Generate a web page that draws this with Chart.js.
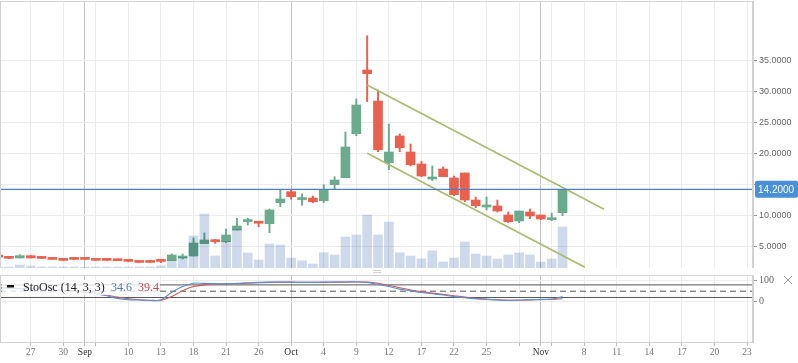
<!DOCTYPE html>
<html>
<head>
<meta charset="utf-8">
<script src="https://cdn.jsdelivr.net/npm/chart.js@4.4.0/dist/chart.umd.min.js"></script>
<style>
  html, body { margin: 0; padding: 0; background: #fff; }
  #wrap { position: relative; width: 798px; height: 363px; overflow: hidden; }
  #price { position: absolute; left: 0; top: 0; }
  #osc { position: absolute; left: 0; top: 268px; }
</style>
</head>
<body>
<div id="wrap">
  <canvas id="price" width="798" height="268"></canvas>
  <canvas id="osc" width="798" height="95"></canvas>
</div>
<script>
// one entry per slot on the time axis, slot 0 is the (clipped) leftmost candle
const opens  = [3.30, 3.10, 3.11, 3.48, 3.08, 2.92, 2.76, 2.92, 2.90, 2.76, 2.76, 2.95, 2.60, 2.43, 2.43, 2.60,
                2.67, 3.11, 3.43, 5.42, 6.07, 5.74, 7.63, 9.00, 9.04, 8.65, 12.05, 13.83, 12.55, 12.80, 12.37, 14.96,
                16.09, 23.20, 33.50, 28.48, 18.50, 22.83, 20.24, 18.30, 15.88, 17.49, 16.04, 16.85, 12.48, 11.35,
                11.51, 10.06, 9.09, 10.54, 10.06, 9.30, 10.43];
const highs  = [3.30, 3.10, 3.64, 3.50, 3.08, 3.10, 2.90, 2.92, 2.90, 2.76, 2.90, 2.95, 2.60, 2.43, 2.43, 2.60,
                3.76, 3.76, 6.34, 7.15, 6.10, 7.80, 9.53, 9.53, 9.04, 11.03, 14.10, 14.10, 13.45, 13.13, 14.96, 16.25,
                23.47, 28.80, 39.04, 30.26, 24.77, 23.15, 21.53, 18.74, 17.98, 17.82, 16.36, 16.85, 12.97, 12.97,
                12.48, 10.54, 10.70, 11.03, 10.06, 10.38, 14.20];
const lows   = [3.25, 3.05, 3.11, 3.10, 3.04, 2.88, 2.72, 2.88, 2.88, 2.72, 2.72, 2.67, 2.56, 2.39, 2.39, 2.35,
                2.67, 2.95, 3.43, 5.42, 5.48, 5.58, 7.63, 8.44, 8.17, 7.20, 11.40, 12.60, 11.63, 12.05, 12.05, 14.20,
                16.09, 22.88, 28.37, 20.29, 17.38, 20.29, 17.98, 16.25, 15.60, 16.25, 13.18, 12.20, 11.24, 10.87,
                10.54, 8.81, 8.81, 9.46, 9.30, 9.14, 9.95];
const closes = [3.25, 3.05, 3.48, 3.11, 3.04, 2.88, 2.72, 2.88, 2.88, 2.72, 2.72, 2.67, 2.56, 2.39, 2.39, 2.56,
                3.59, 3.43, 5.53, 6.02, 5.74, 6.83, 8.28, 9.09, 8.72, 10.87, 12.65, 13.02, 12.65, 12.20, 14.20, 15.71,
                21.05, 27.84, 32.90, 20.60, 20.24, 20.94, 18.19, 16.36, 15.98, 16.25, 13.34, 12.48, 11.56, 11.68,
                10.70, 8.98, 10.70, 9.90, 9.41, 9.57, 14.20];
const volumes = [1000, 1000, 3000, 2000, 1000, 1000, 1000, 1000, 1000, 1000, 1000, 1000, 1000, 1000, 1000, 2000,
                 7000, 10700, 32000, 54000, 12000, 26700, 38700, 15000, 8000, 24000, 23000, 10000, 7200, 4000, 15300, 13000,
                 31000, 33000, 53000, 33000, 46000, 15300, 12000, 9200, 17200, 6000, 10000, 26000, 14000, 12000,
                 9000, 13000, 15000, 13000, 6000, 9000, 41000];

// stochastic oscillator (14, 3, 3)
const stochK = [66, 64, 62, 60, 58, 55, 53, 50, 45, 38, 28, 16, 10, 8, 7, 9,
                45, 72, 88, 87, 86, 85, 87, 90, 92, 93, 93, 93, 92, 92, 93, 93,
                94, 95, 92, 82, 72, 60, 52, 44, 38, 32, 24, 19, 14, 11,
                8, 7, 8, 10, 11, 12, 24];
const stochD = [67, 65, 63, 61, 59, 56, 54, 51, 47, 41, 32, 22, 14, 9, 6, 6,
                25, 52, 72, 80, 84, 85, 86, 88, 90, 92, 93, 93, 92, 92, 92, 93,
                93, 94, 93, 88, 78, 66, 56, 48, 41, 35, 28, 22, 16, 12,
                9, 7, 7, 8, 10, 11, 14];
const stochLevels = [80, 50, 20];
const stochTitle = 'StoOsc (14, 3, 3)';
const stochReadout = ['34.6', '39.4'];

// drawn trend channel, [slot, price]
const channelUpper = [[34, 31.07], [55.83, 10.98]];
const channelLower = [[34, 20.03], [54.06, 1.60]];
const lastPrice = 14.2;

// time axis
const tickSlots  = [3, 6, 8, 9, 12, 15, 18, 21, 24, 27, 30, 33, 36, 39, 42, 45, 48, 50, 51, 54, 57, 60, 63, 66, 69];
const tickLabels = ['27', '30', 'Sep', '', '10', '13', '18', '21', '26', 'Oct', '4', '9', '12', '17', '22', '25',
                    '', 'Nov', '', '8', '11', '14', '17', '20', '23'];
const monthSlots = [8, 27, 50];
const priceTicks = [5, 10, 15, 20, 25, 30, 35];
const oscTicks = [0, 100];

const X_MIN = 0.171, X_MAX = 69.55;
const GREEN = '#6aab8e', RED = '#e9604f';
const GRID = '#ececec', MONTH_GRID = '#c4c4c4';

const isUp = i => closes[i] >= opens[i];
const candleColor = ctx => isUp(ctx.dataIndex) ? GREEN : RED;
const pts = arr => arr.map(p => ({ x: p[0], y: p[1] }));

// keep chart.js from reserving room for edge labels
const noPad = s => { s.paddingTop = 0; s.paddingBottom = 0; s.paddingLeft = 0; s.paddingRight = 0; };

const sharedX = {
  type: 'linear',
  min: X_MIN,
  max: X_MAX,
  offset: false,
  afterBuildTicks: scale => { scale.ticks = tickSlots.map(v => ({ value: v })); },
  grid: {
    offset: false,
    color: ctx => (ctx.tick && monthSlots.includes(ctx.tick.value)) ? MONTH_GRID : GRID,
    tickColor: '#bbb',
    tickLength: 4
  }
};

const frame = {
  id: 'frame',
  afterDraw(chart) {
    const a = chart.chartArea, c = chart.ctx;
    c.save();
    c.strokeStyle = '#d2d2d2';
    c.lineWidth = 1;
    c.strokeRect(a.left + 0.5, a.top + 0.5, a.right - a.left - 1, a.bottom - a.top);
    c.restore();
  }
};

const volumeBlend = {
  id: 'volumeBlend',
  beforeDatasetDraw(chart, args) {
    if (chart.data.datasets[args.index].label === 'Volume') {
      chart.ctx.save();
      chart.ctx.globalCompositeOperation = 'multiply';
    }
  },
  afterDatasetDraw(chart, args) {
    if (chart.data.datasets[args.index].label === 'Volume') chart.ctx.restore();
  }
};

const priceTag = {
  id: 'priceTag',
  afterDraw(chart) {
    const c = chart.ctx, y = chart.scales.y.getPixelForValue(lastPrice);
    const x0 = chart.chartArea.right + 2;
    c.save();
    c.fillStyle = '#4a90d9';
    c.beginPath();
    c.roundRect(x0, y - 8.5, 798 - x0, 17, 2);
    c.fill();
    c.fillStyle = '#fff';
    c.font = '10px "Liberation Sans"';
    c.textBaseline = 'middle';
    c.fillText(lastPrice.toFixed(4), x0 + 3, y + 0.5);
    c.restore();
  }
};

new Chart(document.getElementById('price'), {
  type: 'bar',
  data: {
    datasets: [
      {
        label: 'Last', type: 'line', order: -2, yAxisID: 'y',
        data: [{ x: X_MIN, y: lastPrice }, { x: X_MAX, y: lastPrice }],
        borderColor: '#4a80c6', borderWidth: 1.2, pointRadius: 0
      },
      {
        label: 'Channel top', type: 'line', order: -1, yAxisID: 'y',
        data: pts(channelUpper), borderColor: '#a9bb70', borderWidth: 1.6, pointRadius: 0
      },
      {
        label: 'Channel bottom', type: 'line', order: -1, yAxisID: 'y',
        data: pts(channelLower), borderColor: '#a9bb70', borderWidth: 1.6, pointRadius: 0
      },
      {
        label: 'Volume', order: 0, yAxisID: 'vol', grouped: false,
        data: volumes.map((v, i) => ({ x: i, y: v })),
        backgroundColor: '#cedaeb', barThickness: 9
      },
      {
        label: 'Body', order: 1, yAxisID: 'y', grouped: false,
        data: opens.map((o, i) => ({ x: i, y: [o, closes[i]] })),
        backgroundColor: candleColor, barThickness: 9, minBarLength: 2
      },
      {
        label: 'Wick', order: 2, yAxisID: 'y', grouped: false,
        data: lows.map((l, i) => ({ x: i, y: [l, highs[i]] })),
        backgroundColor: candleColor, barThickness: 1.3
      }
    ]
  },
  options: {
    responsive: false,
    animation: false,
    devicePixelRatio: 1,
    layout: { padding: { top: 1, left: 0, right: 0, bottom: 0 } },
    plugins: { legend: { display: false }, tooltip: { enabled: false } },
    scales: {
      x: Object.assign({}, sharedX, {
        ticks: { display: false },
        grid: Object.assign({}, sharedX.grid, { drawTicks: false }),
        border: { display: false },
        afterFit: s => { s.height = 0; noPad(s); }
      }),
      y: {
        position: 'right',
        min: 1.49, max: 44.65,
        afterBuildTicks: scale => { scale.ticks = priceTicks.map(v => ({ value: v })); },
        afterFit: s => { s.width = 45; noPad(s); },
        grid: { color: GRID, tickColor: '#999', tickLength: 4 },
        border: { color: '#d2d2d2' },
        ticks: {
          padding: 2, color: '#666',
          font: { family: '"Liberation Sans"', size: 9 },
          callback: v => v.toFixed(4)
        }
      },
      vol: { display: false, min: 0, max: 267000 }
    }
  },
  plugins: [volumeBlend, priceTag, frame]
});

const oscDecor = {
  id: 'oscDecor',
  afterDraw(chart) {
    const c = chart.ctx;
    c.save();
    // legend plate
    c.fillStyle = 'rgba(255,255,255,0.8)';
    c.fillRect(2, 12, 158, 15);
    c.fillStyle = '#111';
    c.fillRect(7, 17, 7, 2.5);
    c.font = '12px "Liberation Serif"';
    c.textBaseline = 'alphabetic';
    c.fillStyle = '#222';
    c.fillText(stochTitle, 23, 23);
    c.fillStyle = '#4a7cbf';
    c.fillText(stochReadout[0], 111, 23);
    c.fillStyle = '#c84848';
    c.fillText(stochReadout[1], 138, 23);
    // pane resize grip
    c.strokeStyle = '#d0d0d0';
    c.lineWidth = 1;
    c.beginPath();
    c.moveTo(373, 2.5); c.lineTo(381, 2.5);
    c.moveTo(373, 4.5); c.lineTo(381, 4.5);
    c.stroke();
    // close cross
    c.strokeStyle = '#9a9a9a';
    c.beginPath();
    c.moveTo(784, 8); c.lineTo(792, 16);
    c.moveTo(792, 8); c.lineTo(784, 16);
    c.stroke();
    c.restore();
  }
};

const levelSets = stochLevels.map(v => ({
  label: 'L' + v, order: 2,
  data: [{ x: X_MIN, y: v }, { x: X_MAX, y: v }],
  borderColor: '#555', borderWidth: 1, pointRadius: 0,
  borderDash: v === 50 ? [6, 4] : []
}));

new Chart(document.getElementById('osc'), {
  type: 'line',
  data: {
    datasets: levelSets.concat([
      {
        label: '%D', order: 1,
        data: stochD.map((v, i) => ({ x: i, y: v })),
        borderColor: '#cc5a5a', borderWidth: 1.1, pointRadius: 0, tension: 0.35
      },
      {
        label: '%K', order: 0,
        data: stochK.map((v, i) => ({ x: i, y: v })),
        borderColor: '#5a8fd4', borderWidth: 1.1, pointRadius: 0, tension: 0.35
      }
    ])
  },
  options: {
    responsive: false,
    animation: false,
    devicePixelRatio: 1,
    layout: { padding: { top: 7, left: 0, right: 0, bottom: 0 } },
    plugins: { legend: { display: false }, tooltip: { enabled: false } },
    scales: {
      x: Object.assign({}, sharedX, {
        position: 'bottom',
        border: { color: '#d2d2d2' },
        afterFit: s => { s.height = 21; noPad(s); },
        ticks: {
          autoSkip: false, maxRotation: 0, minRotation: 0, padding: 1,
          color: ctx => (ctx.tick && monthSlots.includes(ctx.tick.value)) ? '#333' : '#777',
          font: { family: '"Liberation Serif"', size: 9.5 },
          callback: (v, i) => tickLabels[i]
        }
      }),
      y: {
        position: 'right',
        min: -191.9, max: 127.1,
        afterBuildTicks: scale => { scale.ticks = oscTicks.map(v => ({ value: v })); },
        afterFit: s => { s.width = 45; noPad(s); },
        grid: { color: GRID, tickColor: '#999', tickLength: 4 },
        border: { color: '#d2d2d2' },
        ticks: {
          padding: 2, color: '#666',
          font: { family: '"Liberation Serif"', size: 10 },
          callback: v => String(v)
        }
      }
    }
  },
  plugins: [oscDecor, frame]
});
</script>
</body>
</html>
